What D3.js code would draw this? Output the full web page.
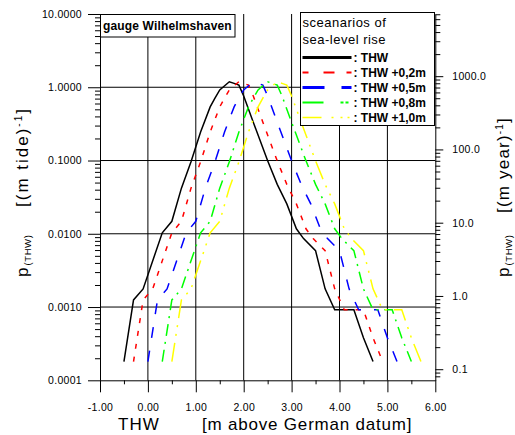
<!DOCTYPE html>
<html>
<head>
<meta charset="utf-8">
<script src="https://cdn.jsdelivr.net/npm/d3@7"></script>
<style>
  body { margin: 0; background: #fff; }
  svg  { display: block; font-family: "Liberation Sans", Arial, sans-serif; }
</style>
</head>
<body>
<div id="chart"></div>
<script>

// water level THW [m above German datum] at the curve vertices, one list per scenario
var xThw   = [-0.5, -0.3, -0.1, 0.3, 0.5, 0.7, 0.9, 1.1, 1.3, 1.4, 1.5, 1.7, 1.8, 1.9, 2.0, 2.2, 2.5, 2.7, 2.9, 3.1, 3.25, 3.5, 3.7, 3.9, 4.3, 4.5, 4.7];
var xThw02 = [-0.3, -0.1, 0.1, 0.5, 0.7, 0.9, 1.1, 1.3, 1.5, 1.6, 1.7, 1.9, 2.0, 2.1, 2.2, 2.4, 2.7, 2.9, 3.1, 3.3, 3.45, 3.7, 3.9, 4.1, 4.5, 4.7, 4.9];
var xThw05 = [0.0, 0.2, 0.4, 0.8, 1.0, 1.2, 1.4, 1.6, 1.8, 1.9, 2.0, 2.2, 2.3, 2.4, 2.5, 2.7, 3.0, 3.2, 3.4, 3.6, 3.75, 4.0, 4.2, 4.4, 4.8, 5.0, 5.2];
var xThw08 = [0.3, 0.5, 0.7, 1.1, 1.3, 1.5, 1.7, 1.9, 2.1, 2.2, 2.3, 2.5, 2.6, 2.7, 2.8, 3.0, 3.3, 3.5, 3.7, 3.9, 4.05, 4.3, 4.5, 4.7, 5.1, 5.3, 5.5];
var xThw10 = [0.5, 0.7, 0.9, 1.3, 1.5, 1.7, 1.9, 2.1, 2.3, 2.4, 2.5, 2.7, 2.8, 2.9, 3.0, 3.2, 3.5, 3.7, 3.9, 4.1, 4.25, 4.5, 4.7, 4.9, 5.3, 5.5, 5.7];

// p(THW) per tide at those vertices (the scenarios are the same curve moved along the axis)
var pThw = [0.00018, 0.00125, 0.00177, 0.0103, 0.0148, 0.042, 0.096, 0.245, 0.54, 0.71, 0.92, 1.19, 1.13, 1.07, 0.76, 0.333, 0.099, 0.0472, 0.0256, 0.0117, 0.0086, 0.00588, 0.00177, 0.000916, 0.000916, 0.00038, 0.000181];

var seriesNames  = [': THW', ': THW +0,2m', ': THW +0,5m', ': THW +0,8m', ': THW +1,0m'];
var xTicks       = [-1, 0, 1, 2, 3, 4, 5, 6];
var xMinorTicks  = [-0.5, 0.5, 1.5, 2.5, 3.5, 4.5, 5.5];
var xGrid        = [0, 1, 2, 3, 4, 5];
var yTicks       = [0.0001, 0.001, 0.01, 0.1, 1, 10];
var yGrid        = [0.001, 0.01, 0.1, 1];
var yRightTicks  = [0.1, 1, 10, 100, 1000];
var tidesPerYear = 705.8;

var chart = {

  config: {
    width:  515,
    height: 435,
    left:   100,
    right:  435.3,
    top:    14,
    bottom: 380.3,
    tickFont: 10.5,
    // colour, plot dash, legend dash, legend width
    styles: [
      ['#000000', null,              null,                  3  ],
      ['#ff0000', '5,8',             '6,15,11,12,6',        2  ],
      ['#0000ff', '11,13',           '22,17,11',            3  ],
      ['#00ff00', '12,6,2,6',        '21,17,3,2,3',         2  ],
      ['#ffff00', '19,7,2,7,2,7',    '19,10,2,7,2,5,2',     1.5]
    ]
  },

  display: function(el) {
    var c = this.config;
    this.svg = d3.select(el).append('svg')
      .attr('width', c.width)
      .attr('height', c.height);

    this.x = d3.scaleLinear().domain([-1, 6]).range([c.left, c.right]);
    this.y = d3.scaleLog().domain([1e-4, 10]).range([c.bottom, c.top]);
    this.yYear = d3.scaleLog()
      .domain([1e-4 * tidesPerYear, 10 * tidesPerYear])
      .range([c.bottom, c.top]);

    this.createGrid();
    this.createCurves();
    this.createAxes();
    this.createBoxes();
    this.createTitles();
  },

  createGrid: function() {
    var c = this.config, x = this.x, y = this.y;
    var g = this.svg.append('g').attr('stroke', '#000').attr('stroke-width', 1);
    g.selectAll('.vg').data(xGrid).enter().append('line')
      .attr('x1', d => x(d)).attr('x2', d => x(d))
      .attr('y1', c.top).attr('y2', c.bottom);
    g.selectAll('.hg').data(yGrid).enter().append('line')
      .attr('x1', c.left).attr('x2', c.right)
      .attr('y1', d => y(d)).attr('y2', d => y(d));
  },

  createCurves: function() {
    var x = this.x, y = this.y, styles = this.config.styles;
    var xs = [xThw, xThw02, xThw05, xThw08, xThw10];
    var line = d3.line().x(d => x(d[0])).y(d => y(d[1]));

    xs.forEach(function(xv, i) {
      var pts = xv.map((v, j) => [v, pThw[j]]);
      this.svg.append('path')
        .attr('d', line(pts))
        .attr('fill', 'none')
        .attr('stroke', styles[i][0])
        .attr('stroke-width', 1.5)
        .attr('stroke-dasharray', styles[i][1]);
    }, this);
  },

  isDecade: function(d) {
    var l = Math.log10(d);
    return Math.abs(l - Math.round(l)) < 1e-6;
  },

  styleAxis: function(g) {
    g.select('.domain').attr('stroke', '#000');
    g.selectAll('.tick line').attr('stroke', '#000');
    g.selectAll('text')
      .attr('fill', '#000')
      .style('font-size', this.config.tickFont + 'px')
      .style('letter-spacing', '0.3px')
      .style('font-family', '"Liberation Sans", Arial, sans-serif');
  },

  createAxes: function() {
    var c = this.config, self = this;

    // left: p per tide
    var minorLeft = this.y.ticks().filter(d => !self.isDecade(d));
    this.svg.append('g').attr('transform', 'translate(' + c.left + ',0)')
      .call(d3.axisLeft(this.y).tickValues(minorLeft).tickFormat('').tickSize(5).tickSizeOuter(0))
      .call(g => g.select('.domain').remove())
      .call(g => self.styleAxis(g));
    this.svg.append('g').attr('transform', 'translate(' + c.left + ',0)')
      .call(d3.axisLeft(this.y).tickValues(yTicks).tickFormat(d => d.toFixed(4))
        .tickSize(12).tickPadding(6).tickSizeOuter(0))
      .call(g => self.styleAxis(g));

    // right: p per year
    var minorRight = this.yYear.ticks().filter(d => !self.isDecade(d));
    this.svg.append('g').attr('transform', 'translate(' + c.right + ',0)')
      .call(d3.axisRight(this.yYear).tickValues(minorRight).tickFormat('').tickSize(5).tickSizeOuter(0))
      .call(g => g.select('.domain').remove())
      .call(g => self.styleAxis(g));
    this.svg.append('g').attr('transform', 'translate(' + c.right + ',0)')
      .call(d3.axisRight(this.yYear).tickValues(yRightTicks).tickFormat(d => d.toFixed(1))
        .tickSize(8).tickPadding(9).tickSizeOuter(0))
      .call(g => self.styleAxis(g));

    // bottom: THW
    this.svg.append('g').attr('transform', 'translate(0,' + c.bottom + ')')
      .call(d3.axisBottom(this.x).tickValues(xMinorTicks).tickFormat('').tickSize(4).tickSizeOuter(0))
      .call(g => g.select('.domain').remove())
      .call(g => self.styleAxis(g));
    this.svg.append('g').attr('transform', 'translate(0,' + c.bottom + ')')
      .call(d3.axisBottom(this.x).tickValues(xTicks).tickFormat(d => d.toFixed(2))
        .tickSize(12).tickPadding(11).tickSizeOuter(0))
      .call(g => self.styleAxis(g));
  },

  createBoxes: function() {
    var styles = this.config.styles;

    // gauge label
    var gauge = this.svg.append('g').attr('transform', 'translate(100.5,14.5)');
    gauge.append('rect').attr('width', 134.5).attr('height', 22.5)
      .attr('fill', '#fff').attr('stroke', '#000');
    gauge.append('text').attr('x', 2.5).attr('y', 15)
      .style('font-size', '12px').style('font-weight', 'bold').style('letter-spacing', '0.15px')
      .text('gauge Wilhelmshaven');

    // scenario legend
    var lg = this.svg.append('g').attr('transform', 'translate(300.5,12.5)');
    lg.append('rect').attr('width', 134).attr('height', 113)
      .attr('fill', '#fff').attr('stroke', '#000');
    lg.append('text').attr('x', 2).attr('y', 14.5)
      .style('font-size', '13px').style('letter-spacing', '0.5px').text('sceanarios of');
    lg.append('text').attr('x', 2).attr('y', 31.5)
      .style('font-size', '13px').style('letter-spacing', '0.5px').text('sea-level rise');

    var rows = lg.selectAll('.row').data(seriesNames).enter().append('g')
      .attr('transform', (d, i) => 'translate(0,' + (45 + i * 15) + ')');
    rows.append('line')
      .attr('x1', 2).attr('x2', 51).attr('y1', 0).attr('y2', 0)
      .attr('stroke', (d, i) => styles[i][0])
      .attr('stroke-width', (d, i) => styles[i][3])
      .attr('stroke-dasharray', (d, i) => styles[i][2]);
    rows.append('text').attr('x', 53).attr('y', 4.5)
      .style('font-size', '12px').style('font-weight', 'bold')
      .text(d => d);
  },

  createTitles: function() {
    var svg = this.svg;

    // bottom axis title
    svg.append('text').attr('x', 118).attr('y', 430)
      .style('font-size', '17px').style('letter-spacing', '1px').text('THW');
    svg.append('text').attr('x', 202).attr('y', 430)
      .style('font-size', '17px').style('letter-spacing', '0.8px').text('[m above German datum]');

    // vertical titles, left (per tide) and right (per year)
    [[28, 2, 'tide'], [509, 1.2, 'year']].forEach(function(s) {
      var p = svg.append('text')
        .attr('transform', 'translate(' + s[0] + ',277) rotate(-90)')
        .style('font-size', '17px');
      p.append('tspan').text('p');
      p.append('tspan').attr('dx', 2).attr('dy', 3).style('font-size', '9.5px')
        .style('letter-spacing', '0.6px').text('(THW)');

      var u = svg.append('text')
        .attr('transform', 'translate(' + s[0] + ',' + (s[2] == 'tide' ? 207 : 213) + ') rotate(-90)')
        .style('font-size', '17px').style('letter-spacing', s[1] + 'px');
      u.append('tspan').text('[(m ' + s[2] + ')');
      u.append('tspan').attr('dy', -6).style('font-size', '10px').text('-1');
      u.append('tspan').attr('dy', 6).text(']');
    });
  }

};

chart.display('#chart');
</script>
</body>
</html>
